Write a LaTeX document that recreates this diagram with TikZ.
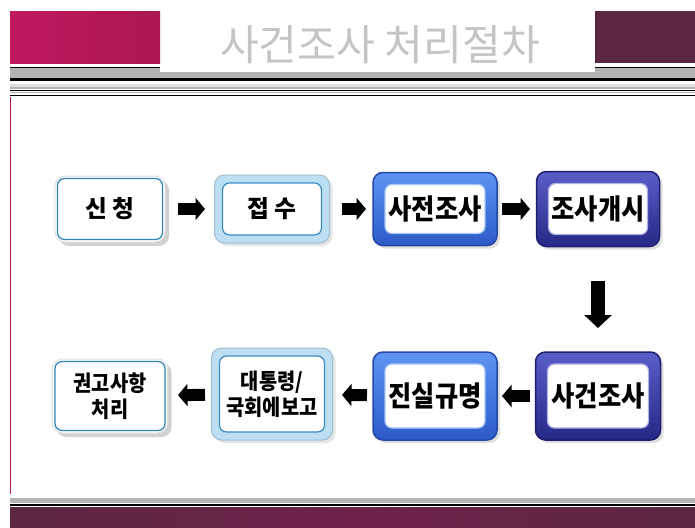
\documentclass[tikz,border=0pt]{standalone}
\usepackage{fontspec}
\usepackage{tikz}
\usetikzlibrary{positioning,shapes,arrows.meta,shadows}
\newfontfamily\kr[FakeStretch=0.9]{Noto Sans CJK KR}
\newfontfamily\krwide{Noto Sans CJK KR}
\definecolor{rosebar}{HTML}{C0195F}
\definecolor{rosedark}{HTML}{AA1850}
\definecolor{plum}{HTML}{5A2640}
\definecolor{plumlight}{HTML}{6E2248}
\definecolor{dither}{HTML}{B4B4B4}
\definecolor{titlegray}{HTML}{C4C4C4}
\definecolor{tealline}{HTML}{2E86B8}
\definecolor{glowblue}{HTML}{BCDFF4}
\definecolor{skyline}{HTML}{3C8CC4}
\definecolor{royaltop}{HTML}{5E94F2}
\definecolor{royalbot}{HTML}{2C5AC8}
\definecolor{royaledge}{HTML}{2448A8}
\definecolor{navytop}{HTML}{5A5EC8}
\definecolor{navybot}{HTML}{262886}
\definecolor{navyedge}{HTML}{1E1E6E}

\begin{document}
\begin{tikzpicture}[x=0.2mm,y=-0.2mm,
      framed/.style 2 args={
        path picture={
          \draw[draw=#1, fill=white, line width=0.25mm, rounded corners=1.4mm]
            ([xshift=#2,yshift=-#2]path picture bounding box.north west) rectangle
            ([xshift=-#2,yshift=#2]path picture bounding box.south east);
        }},
      box/.style={
        shape=rectangle,
        rounded corners=2mm,
        inner sep=0pt,
        outer sep=0pt,
        align=center,
        text=black,
      },
      plainbox/.style={box, fill=white, draw=black!12, line width=0.2mm,
        framed={tealline}{0.5mm},
        drop shadow={shadow xshift=0.8mm, shadow yshift=-0.8mm, opacity=0.35}},
      glowbox/.style={box, fill=glowblue, draw=glowblue!85!black, line width=0.2mm,
        framed={skyline}{1.6mm},
        drop shadow={shadow xshift=0.6mm, shadow yshift=-0.6mm, opacity=0.2}},
      bluebox/.style={box, top color=royaltop, bottom color=royalbot,
        draw=royaledge, line width=0.3mm,
        framed={royaltop!55!white}{2.4mm},
        drop shadow={shadow xshift=0.6mm, shadow yshift=-0.6mm, opacity=0.25}},
      navybox/.style={box, top color=navytop, bottom color=navybot,
        draw=navyedge, line width=0.3mm,
        framed={navytop!50!white}{2.4mm},
        drop shadow={shadow xshift=0.6mm, shadow yshift=-0.6mm, opacity=0.25}},
      widetxt/.style={font=\krwide\bfseries\fontsize{13.5}{16}\selectfont},
      bigtxt/.style={font=\kr\bfseries\fontsize{16}{19}\selectfont},
      smalltxt/.style={font=\kr\bfseries\fontsize{12.5}{15}\selectfont},
      flow/.style={line width=2.4mm, -{Triangle[length=1.9mm, width=4.4mm]}},
      drop/.style={line width=2.8mm, -{Triangle[length=2.6mm, width=5.4mm]}},
    ]
      \useasboundingbox (0,0) rectangle (695,527);
      \fill[white] (0,0) rectangle (695,527);

      % header and footer bars
      \shade[left color=rosebar, right color=rosedark] (10,11) rectangle (160,63);
      \fill[plum] (595,11) rectangle (695,63);
      \fill[black] (10,66.5) rectangle (160,67.5);
      \fill[black] (595,66.5) rectangle (695,67.5);
      \fill[dither] (10,68) rectangle (160,77);
      \fill[dither] (595,68) rectangle (695,77);
      \fill[dither] (10,72) rectangle (695,77.5);
      \fill[black] (10,78) rectangle (695,81);
      \fill[gray!25] (10,84) rectangle (695,86.5);
      \fill[dither] (10,87) rectangle (695,89);
      \fill[black] (10,89.5) rectangle (695,90.5);
      \fill[dither] (10,91.5) rectangle (695,93);
      \fill[black] (10,94.5) rectangle (695,96);
      \fill[rosedark] (9.5,97) rectangle (11,494);
      \fill[dither] (10,498) rectangle (695,503);
      \fill[black] (10,504) rectangle (695,506);
      \shade[left color=plum, right color=plum, middle color=plumlight] (10,507) rectangle (695,527);

      \node[font=\krwide\fontsize{24}{28}\selectfont, text=titlegray] (title) at (380,45) {사건조사 처리절차};

      \node[plainbox, widetxt, minimum width=22mm, minimum height=13.2mm] (sincheong) at (110,209) {신 청};
      \node[glowbox, widetxt, minimum width=23mm, minimum height=13.6mm] (jeopsu) at (272,209) {접 수};
      \node[bluebox, bigtxt, minimum width=24.8mm, minimum height=14.6mm] (sajeon) at (435,209) {사전조사};
      \node[navybox, bigtxt, minimum width=24.6mm, minimum height=15mm] (gaesi) at (598,209) {조사개시};
      \node[navybox, bigtxt, minimum width=25mm, minimum height=17.6mm] (sageon) at (598,396) {사건조사};
      \node[bluebox, bigtxt, minimum width=24.8mm, minimum height=17.6mm] (jinsil) at (435,396) {진실규명};
      \node[glowbox, smalltxt, minimum width=24.2mm, minimum height=18.4mm] (bogo) at (272,394) {대통령/\\국회에보고};
      \node[plainbox, smalltxt, minimum width=23mm, minimum height=14.8mm] (gwongo) at (110,396) {권고사항\\처리};

      \draw[flow, shorten <=2.6mm, shorten >=1.9mm] (sincheong) -- (jeopsu);
      \draw[flow, shorten <=2.5mm, shorten >=1.4mm] (jeopsu) -- (sajeon);
      \draw[flow, shorten <=1mm, shorten >=1.3mm] (sajeon) -- (gaesi);
      \draw[drop, shorten <=6.9mm, shorten >=4.8mm] (gaesi) -- (sageon);
      \draw[flow, shorten <=1.1mm, shorten >=1mm] (sageon) -- (jinsil);
      \draw[flow, shorten <=1.2mm, shorten >=1.9mm] (jinsil) -- (bogo);
      \draw[flow, shorten <=1.3mm, shorten >=2.1mm] (bogo) -- (gwongo);
    \end{tikzpicture}
\end{document}
